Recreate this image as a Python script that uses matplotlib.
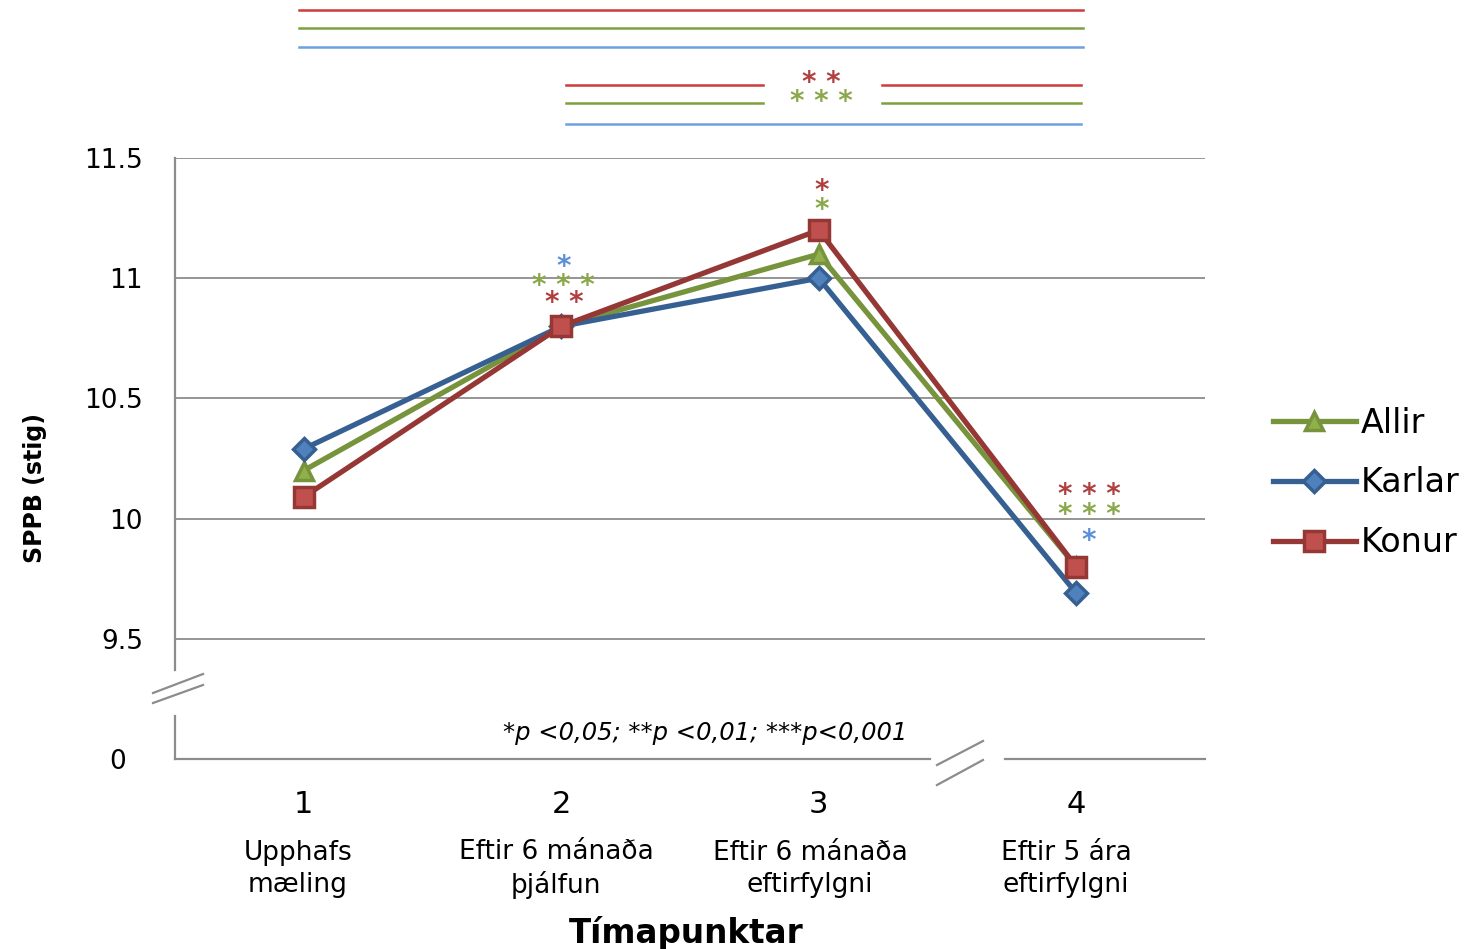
import matplotlib
matplotlib.use("Agg")
import matplotlib.pyplot as plt
from matplotlib.lines import Line2D
from matplotlib.transforms import ScaledTranslation

# ---- data ----
timepoints = [1, 2, 3, 4]
tick_labels = ["1", "2", "3", "4"]
category_labels = ["Upphafs\nmæling", "Eftir 6 mánaða\nþjálfun",
                   "Eftir 6 mánaða\neftirfylgni", "Eftir 5 ára\neftirfylgni"]
allir = [10.2, 10.8, 11.1, 9.8]
karlar = [10.29, 10.8, 11.0, 9.69]
konur = [10.09, 10.8, 11.2, 9.8]
y_ticks = [9.0, 9.5, 10.0, 10.5, 11.0, 11.5]
y_tick_labels = ["0", "9.5", "10", "10.5", "11", "11.5"]
series_names = ["Allir", "Karlar", "Konur"]
footnote = "*p <0,05; **p <0,01; ***p<0,001"

# significance stars: (x, y, text, group)
point_stars = [
    (2.01, 11.067, "*", "Karlar"), (2.01, 10.99, "***", "Allir"), (2.01, 10.917, "**", "Konur"),
    (3.01, 11.383, "*", "Konur"), (3.01, 11.304, "*", "Allir"),
    (4.05, 10.117, "***", "Konur"), (4.05, 10.0375, "***", "Allir"), (4.05, 9.929, "*", "Karlar"),
]

# ---- styles ----
line_col = {"Allir": "#77933C", "Karlar": "#376092", "Konur": "#953735"}
face_col = {"Allir": "#8FB04A", "Karlar": "#4F81BD", "Konur": "#C0504D"}
star_col = {"Allir": "#8AA84A", "Karlar": "#5B8FD8", "Konur": "#B0403F"}
sig_col = {"Allir": "#7FA040", "Karlar": "#6FA0E0", "Konur": "#D03A3A"}
markers = {"Allir": "^", "Karlar": "D", "Konur": "s"}
msizes = {"Allir": 13, "Karlar": 11, "Konur": 15}
grid_col = "#8C8C8C"

fig = plt.figure(figsize=(14.73, 9.49), dpi=100)
ax = fig.add_axes([175 / 1473, 1 - 759 / 949, (1205 - 175) / 1473, (759 - 158) / 949])
ax.set_xlim(0.5, 4.5)
ax.set_ylim(9.0, 11.5)
for s in ax.spines.values():
    s.set_visible(False)

# gridlines
for yv in y_ticks[1:]:
    ax.axhline(yv, color=grid_col, lw=1.3, zorder=1)

# broken axes
ax.plot([0, 0], [1, (759 - 670) / 601], transform=ax.transAxes, color=grid_col, lw=1.6, clip_on=False)
ax.plot([0, 0], [(759 - 716) / 601, 0], transform=ax.transAxes, color=grid_col, lw=1.6, clip_on=False)
ax.plot([0, (930 - 175) / 1030], [0, 0], transform=ax.transAxes, color=grid_col, lw=1.6, clip_on=False)
ax.plot([(1005 - 175) / 1030, 1], [0, 0], transform=ax.transAxes, color=grid_col, lw=1.6, clip_on=False)


def figline(x0, y0, x1, y1):
    fig.add_artist(Line2D([x0 / 1473, x1 / 1473], [1 - y0 / 949, 1 - y1 / 949],
                          color=grid_col, lw=1.6))


figline(153, 693, 203, 674)
figline(153, 703, 203, 685)
figline(937, 765, 983, 741)
figline(937, 785, 983, 760)

# series
handles = []
for name, vals in zip(series_names, [allir, karlar, konur]):
    h, = ax.plot(timepoints, vals, color=line_col[name], lw=3.8, marker=markers[name],
                 markersize=msizes[name], markerfacecolor=face_col[name],
                 markeredgecolor=line_col[name], markeredgewidth=2.5, zorder=3,
                 label=name)
    handles.append(h)


def star(x, y, txt, grp):
    ax.text(x, y, " ".join(txt), color=star_col[grp], fontsize=20, ha="center",
            va="center_baseline", fontweight="bold", clip_on=False, zorder=6)


for x, y, t, g in point_stars:
    star(x, y - 0.008, t, g)


def sigline(x0, x1, y, grp):
    ax.plot([x0, x1], [y, y], color=sig_col[grp], lw=1.8, clip_on=False, zorder=2)


sigline(0.98, 4.025, 12.117, "Konur")
sigline(0.98, 4.025, 12.042, "Allir")
sigline(0.98, 4.025, 11.9625, "Karlar")
sigline(2.02, 2.785, 11.804, "Konur")
sigline(3.245, 4.02, 11.804, "Konur")
sigline(2.02, 2.785, 11.729, "Allir")
sigline(3.245, 4.02, 11.729, "Allir")
sigline(2.02, 4.02, 11.642, "Karlar")
star(3.01, 11.833 - 0.008, "**", "Konur")
star(3.01, 11.754 - 0.008, "***", "Allir")

# ticks
ax.set_yticks(y_ticks)
ax.set_yticklabels(y_tick_labels, fontsize=19)
ax.set_xticks(timepoints)
ax.set_xticklabels(tick_labels, fontsize=22)
ax.tick_params(axis="y", length=0, pad=23)
ax.tick_params(axis="x", length=0, pad=22)
zero_lab = ax.get_yticklabels()[0]
zero_lab.set_transform(zero_lab.get_transform() + ScaledTranslation(-0.17, 0, fig.dpi_scale_trans))

cat_x = [298, 556, 810, 1066]
for px, lab in zip(cat_x, category_labels):
    fig.text(px / 1473, 1 - 869 / 949, lab, ha="center", va="center", fontsize=19,
             linespacing=1.25)

fig.text(686 / 1473, 1 - 933 / 949, "Tímapunktar", ha="center", va="center",
         fontsize=23.5, fontweight="bold")
fig.text(35 / 1473, 1 - 488 / 949, "SPPB (stig)", ha="center", va="center",
         fontsize=17, fontweight="bold", rotation=90)
fig.text(705 / 1473, 1 - 733 / 949, footnote, ha="center", va="center",
         fontsize=17.5, style="italic")

leg = fig.legend(handles=handles, loc="center left",
                 bbox_to_anchor=(1256 / 1473, 1 - 483 / 949), frameon=False,
                 fontsize=24, handlelength=2.5, labelspacing=0.8, handletextpad=0.15,
                 borderpad=0)

fig.savefig("out.png", dpi=100, facecolor="white")
